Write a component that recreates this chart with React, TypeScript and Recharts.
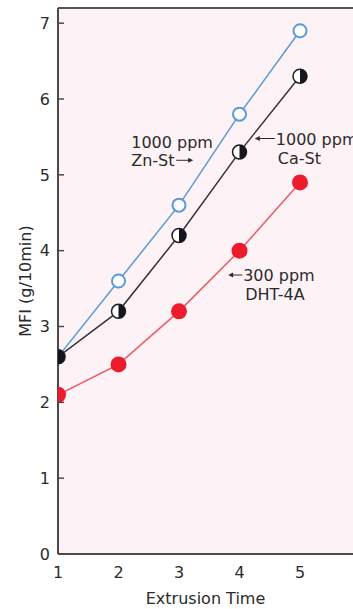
import React from "react";
import {
  LineChart,
  Line,
  XAxis,
  YAxis,
  CartesianGrid,
  ReferenceLine,
  ReferenceDot,
} from "recharts";

const extrusionTimes = [1, 2, 3, 4, 5];
const znStearate = [2.6, 3.6, 4.6, 5.8, 6.9];
const caStearate = [2.6, 3.2, 4.2, 5.3, 6.3];
const dht4a = [2.1, 2.5, 3.2, 4.0, 4.9];

const xTicks = [1, 2, 3, 4, 5];
const yTicks = [0, 1, 2, 3, 4, 5, 6, 7];

// annotation anchors in data units (start of first text line, baseline)
const noteLabels = [
  { x: 2.21, y: 5.35, lines: ["1000 ppm", "Zn-St"], arrow: "right" },
  { x: 4.6, y: 5.4, lines: ["1000 ppm", "Ca-St"], arrow: "left" },
  { x: 4.06, y: 3.6, lines: ["300 ppm", "DHT-4A"], arrow: "left" },
];

const data = extrusionTimes.map((t, i) => ({
  t,
  zn: znStearate[i],
  ca: caStearate[i],
  dht: dht4a[i],
}));

const FONT = "'DejaVu Sans', Arial, sans-serif";
const TEXT = "#2b2b2b";
const AXIS = "#4a4a4a";

const OpenDot = (props: any) => {
  const { cx, cy } = props;
  if (cx == null || cy == null) return <g />;
  return <circle cx={cx} cy={cy} r={6.5} fill="#ffffff" stroke="#5a9ad6" strokeWidth={2} />;
};

const HalfDot = (props: any) => {
  const { cx, cy } = props;
  if (cx == null || cy == null) return <g />;
  const r = 7;
  return (
    <g>
      <circle cx={cx} cy={cy} r={r} fill="#ffffff" stroke="#1c1c24" strokeWidth={1.5} />
      <path d={`M ${cx} ${cy - r} A ${r} ${r} 0 0 1 ${cx} ${cy + r} Z`} fill="#15151f" />
    </g>
  );
};

const SolidDot = (props: any) => {
  const { cx, cy } = props;
  if (cx == null || cy == null) return <g />;
  return <circle cx={cx} cy={cy} r={8} fill="#ec1c2c" stroke="none" />;
};

const YTick = (props: any) => {
  const { x, y, payload } = props;
  return (
    <g>
      <line x1={x + 8} x2={x + 14} y1={y} y2={y} stroke={AXIS} strokeWidth={1.5} />
      <text x={x} y={y} dy="0.36em" textAnchor="end" fontSize={16} fontFamily={FONT} fill={TEXT}>
        {payload.value}
      </text>
    </g>
  );
};

const Arrow = ({ x1, x2, y }: { x1: number; x2: number; y: number }) => {
  const dir = x2 > x1 ? 1 : -1;
  return (
    <g>
      <line x1={x1} x2={x2 - dir * 3} y1={y} y2={y} stroke={TEXT} strokeWidth={1} />
      <path d={`M ${x2} ${y} L ${x2 - dir * 5} ${y - 2.5} L ${x2 - dir * 5} ${y + 2.5} Z`} fill={TEXT} />
    </g>
  );
};

const makeNote = (note: (typeof noteLabels)[number]) => (props: any) => {
  const { cx, cy } = props;
  if (cx == null || cy == null) return <g />;
  const gap = note.arrow === "right" ? 18 : 19;
  return (
    <g>
      {note.lines.map((line, i) => (
        <text
          key={i}
          x={cx + (i === 1 && note.arrow === "left" ? 2 : 0)}
          y={cy + i * gap}
          fontSize={16}
          fontFamily={FONT}
          fill={TEXT}
        >
          {line}
        </text>
      ))}
      {note.arrow === "right" ? (
        <Arrow x1={cx + 45} x2={cx + 62} y={cy + gap - 6} />
      ) : (
        <Arrow x1={cx - 1} x2={cx - (note.lines[0].length > 7 ? 21 : 15)} y={cy - 6} />
      )}
    </g>
  );
};

export default function App() {
  return (
    <div style={{ position: "absolute", left: 0, top: 0, background: "#ffffff" }}>
      <LineChart width={353} height={609} data={data} margin={{ top: 8, right: 0, left: 0, bottom: 0 }}>
        <CartesianGrid horizontal={false} vertical={false} fill="#fdf2f6" />
        <XAxis
          dataKey="t"
          type="number"
          domain={[1, 5.876]}
          ticks={xTicks}
          allowDataOverflow
          height={55}
          tickLine={false}
          tickSize={0}
          tickMargin={13}
          axisLine={{ stroke: AXIS, strokeWidth: 2 }}
          tick={{ fontSize: 16, fontFamily: FONT, fill: TEXT }}
          label={{
            content: (p: any) => {
              const vb = p.viewBox || {};
              return (
                <text
                  x={vb.x + vb.width / 2}
                  y={604}
                  textAnchor="middle"
                  fontSize={16}
                  fontFamily={FONT}
                  fill={TEXT}
                >
                  Extrusion Time
                </text>
              );
            },
          }}
        />
        <YAxis
          type="number"
          domain={[0, 7.2]}
          ticks={yTicks}
          allowDataOverflow
          width={58}
          tickLine={false}
          tickSize={0}
          tickMargin={8}
          axisLine={{ stroke: AXIS, strokeWidth: 2 }}
          tick={<YTick />}
          label={{
            content: (p: any) => {
              const vb = p.viewBox || {};
              const cy = vb.y + vb.height / 2;
              return (
                <text
                  x={31}
                  y={cy}
                  transform={`rotate(-90, 31, ${cy})`}
                  textAnchor="middle"
                  fontSize={16}
                  fontFamily={FONT}
                  fill={TEXT}
                >
                  MFI (g/10min)
                </text>
              );
            },
          }}
        />
        <ReferenceLine y={7.2} stroke="#555555" strokeWidth={2} />
        <Line
          type="linear"
          dataKey="zn"
          stroke="#5a9ad6"
          strokeWidth={1.5}
          dot={(p: any) => <OpenDot key={p.key} {...p} />}
          activeDot={false}
          isAnimationActive={false}
        />
        <Line
          type="linear"
          dataKey="ca"
          stroke="#333338"
          strokeWidth={1.5}
          dot={(p: any) => <HalfDot key={p.key} {...p} />}
          activeDot={false}
          isAnimationActive={false}
        />
        <Line
          type="linear"
          dataKey="dht"
          stroke="#ea5a68"
          strokeWidth={1.5}
          dot={(p: any) => <SolidDot key={p.key} {...p} />}
          activeDot={false}
          isAnimationActive={false}
        />
        {noteLabels.map((n, i) => (
          <ReferenceDot key={i} x={n.x} y={n.y} r={0} shape={makeNote(n)} />
        ))}
      </LineChart>
    </div>
  );
}
